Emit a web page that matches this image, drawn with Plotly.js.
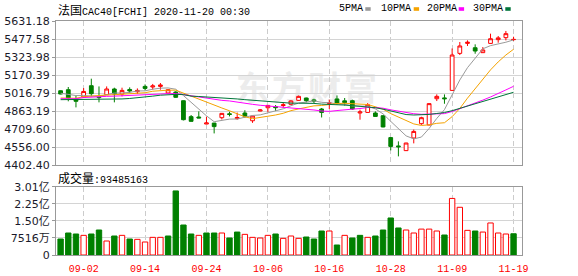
<!DOCTYPE html>
<html><head><meta charset="utf-8">
<script src="https://cdn.plot.ly/plotly-3.0.1.min.js"></script>
<style>
html,body{margin:0;padding:0;background:#fff;}
#wrap{position:relative;width:578px;height:276px;overflow:hidden;background:#fff;}
#wm{position:absolute;left:236px;top:70px;font-family:'Noto Sans CJK SC';font-weight:bold;font-size:33px;color:#ececec;letter-spacing:3px;white-space:nowrap;line-height:1;}
#chart{position:absolute;left:0;top:0;width:578px;height:276px;}
</style></head><body>
<div id="wrap"><div id="wm">东方财富</div><div id="chart"></div></div>
<script>
const dates = ['08-28','08-31','09-01','09-02','09-03','09-04','09-07','09-08','09-09','09-10',
 '09-11','09-14','09-15','09-16','09-17','09-18','09-21','09-22','09-23','09-24',
 '09-25','09-28','09-29','09-30','10-01','10-02','10-05','10-06','10-07','10-08',
 '10-09','10-12','10-13','10-14','10-15','10-16','10-19','10-20','10-21','10-22',
 '10-23','10-26','10-27','10-28','10-29','10-30','11-02','11-03','11-04','11-05',
 '11-06','11-09','11-10','11-11','11-12','11-13','11-16','11-17','11-18','11-19'];
const openP = [5036,5045,4966,4983,5079,4985,5002,5051,5008,5047,
 5028,5073,5068,5073,5017,5025,4951,4815,4812,4752,
 4760,4806,4839,4798,4846,4780,4863,4891,4900,4910,
 4920,4954,4974,4958,4880,4928,4966,4950,4951,4846,
 4851,4846,4823,4636,4565,4525,4633,4755,4744,4968,
 4975,5039,5355,5440,5403,5361,5440,5472,5489,5472];
const highP = [5038,5068,4994,5059,5139,5073,5073,5062,5062,5065,
 5056,5090,5094,5102,5050,5032,4953,4829,4860,4815,
 4762,4845,4857,4850,4870,4822,4880,4913,4914,4934,
 4955,4995,4977,4968,4889,4960,4996,4974,4960,4874,
 4931,4860,4826,4640,4604,4592,4705,4814,4928,5005,
 5005,5397,5452,5466,5432,5409,5523,5503,5546,5497];
const lowP = [5006,4946,4894,4980,4988,4937,5000,4937,4988,5017,
 5008,5039,5045,5045,5015,4975,4783,4773,4802,4750,
 4672,4791,4817,4789,4806,4762,4861,4855,4863,4891,
 4918,4950,4937,4931,4808,4880,4917,4909,4874,4789,
 4849,4815,4724,4527,4476,4522,4587,4745,4742,4948,
 4925,5035,5341,5418,5352,5359,5437,5446,5466,5461];
const closeP = [5008,4975,4946,5030,5011,4978,5051,5008,5039,5034,
 5039,5056,5077,5085,5045,4980,4789,4775,4804,4761,
 4730,4843,4834,4808,4818,4820,4872,4911,4892,4916,
 4949,4988,4951,4948,4851,4933,4931,4935,4880,4855,
 4917,4817,4727,4561,4558,4590,4689,4806,4926,4988,
 4968,5341,5418,5450,5375,5384,5480,5487,5523,5474];
const ma5 = [5015,5005,4995,4995,4994,4988,5003,5016,5017,5022,
 5034,5035,5049,5058,5060,5049,4995,4935,4879,4822,
 4772,4783,4794,4795,4807,4825,4830,4846,4863,4882,
 4908,4931,4939,4950,4937,4934,4923,4920,4906,4907,
 4904,4881,4839,4775,4716,4651,4625,4641,4714,4800,
 4875,5006,5128,5233,5310,5394,5421,5435,5450,5470];
const ma10 = [4974,4974,4972,4985,4992,4996,5000,5002,5005,5008,
 5011,5019,5032,5038,5041,5041,5015,4992,4968,4941,
 4910,4889,4865,4837,4814,4798,4807,4820,4829,4844,
 4866,4881,4893,4907,4910,4921,4927,4929,4928,4922,
 4919,4902,4879,4841,4811,4777,4753,4740,4745,4758,
 4763,4815,4885,4973,5055,5135,5214,5282,5341,5390];
const ma20 = [4968,4968,4968,4978,4983,4986,4988,4990,4992,4995,
 4998,5001,5004,5008,5011,5012,5003,4993,4983,4975,
 4961,4954,4949,4938,4929,4920,4912,4907,4899,4893,
 4889,4886,4879,4872,4863,4860,4867,4875,4879,4884,
 4893,4892,4887,4873,4860,4849,4840,4835,4836,4840,
 4841,4859,4882,4907,4933,4956,4983,5011,5043,5074];
const ma30 = [4960,4960,4960,4960,4961,4962,4963,4964,4966,4970,
 4975,4982,4990,4998,5003,5005,5003,4990,4987,4984,
 4980,4976,4972,4966,4960,4954,4948,4943,4937,4932,
 4930,4930,4930,4928,4922,4921,4917,4914,4909,4903,
 4899,4891,4879,4862,4846,4833,4829,4830,4834,4842,
 4850,4866,4886,4907,4925,4944,4965,4984,5005,5023];
const volume = [70400000,96800000,92400000,86500000,92400000,110000000,61600000,83600000,86500000,70400000,
 68900000,57200000,77700000,77700000,83600000,282000000,132000000,92400000,86500000,96800000,
 96800000,96800000,74800000,101000000,90900000,77700000,74800000,86500000,92400000,73300000,
 83600000,73300000,79200000,70400000,105600000,105600000,44000000,86500000,74800000,86500000,
 77700000,83600000,110000000,163000000,119000000,110000000,96800000,114000000,114000000,105600000,
 88000000,249000000,210000000,108500000,105600000,101000000,141000000,96800000,92400000,93485163];
const volUp = [0,0,0,1,0,0,1,0,1,0, 1,1,1,1,0,0,0,0,1,0, 0,1,0,0,1,1,1,1,0,1,
 1,1,0,0,0,1,0,1,0,0, 1,0,0,0,0,1,1,1,1,1, 0,1,1,1,0,1,1,1,1,0];
const tickDates = ['09-02','09-14','09-24','10-06','10-16','10-28','11-09','11-19'];
const priceTicks = [4402.40,4556.00,4709.60,4863.19,5016.79,5170.39,5323.98,5477.58,5631.18];
const priceTickText = ['4402.40','4556.00','4709.60','4863.19','5016.79','5170.39','5323.98','5477.58','5631.18'];
const volTicks = [0,75160000,150320000,225480000,300640000];
const volTickText = ['0','7516万','1.50亿','2.25亿','3.01亿'];
const maNames = ['5PMA','10PMA','20PMA','30PMA'];
const lastVolume = 93485163;

const RED='#ff0000', GREEN='#008000';
const maColors = ['#9a9a9a','#f5a300','#ff00ff','#00753a'];
const monoFont = 'Liberation Mono, Noto Sans CJK SC';
const cjk = s => '<span style="font-family:Noto Sans CJK SC;font-size:12px">'+s+'</span>';

const traces = [];
traces.push({type:'candlestick', x:dates, open:openP, high:highP, low:lowP, close:closeP,
  xaxis:'x', yaxis:'y', whiskerwidth:0, hoverinfo:'skip',
  increasing:{line:{color:RED,width:1}, fillcolor:'#ffffff'},
  decreasing:{line:{color:GREEN,width:1}, fillcolor:GREEN}});
[ma5,ma10,ma20,ma30].forEach((m,i)=>traces.push({type:'scatter',mode:'lines',x:dates,y:m,
  xaxis:'x',yaxis:'y',line:{color:maColors[i],width:1},hoverinfo:'skip'}));
traces.push({type:'bar', x:dates, y:volume, xaxis:'x2', yaxis:'y2', hoverinfo:'skip',
  marker:{color:volUp.map(u=>u?'#ffffff':GREEN), line:{color:volUp.map(u=>u?RED:GREEN), width:1}}});

const W=466, H=234, L=56, T=21;
const px = v => (v-L)/W, py = v => (T+H-v)/H;

const annotations = [
  {xref:'paper',yref:'paper',x:px(56),y:py(10),xanchor:'left',yanchor:'middle',showarrow:false,
   text:cjk('法国')+'CAC40[FCHI] 2020-11-20 00:30',font:{family:monoFont,size:10,color:'#000'}},
  {xref:'paper',yref:'paper',x:px(56),y:py(177),xanchor:'left',yanchor:'middle',showarrow:false,
   text:cjk('成交量')+':'+lastVolume,font:{family:monoFont,size:10,color:'#000'}}
];
const legX = [337,379,424.5,470.5];
const sqX = [365.3,413.7,458.7,505.3];
const shapes = [];
maNames.forEach((n,i)=>{
  annotations.push({xref:'paper',yref:'paper',x:px(legX[i]),y:py(9),xanchor:'left',yanchor:'middle',
    showarrow:false,text:n,font:{family:monoFont,size:10,color:'#000'}});
  shapes.push({type:'rect',xref:'paper',yref:'paper',x0:px(sqX[i]),x1:px(sqX[i]+5.4),
    y0:py(10.8),y1:py(7.2),fillcolor:maColors[i],line:{width:0}});
});

const gridH = '#d4d4d4', frame='#999999';
const layout = {
  width:578, height:276, margin:{l:L,r:578-L-W,t:T,b:276-T-H},
  paper_bgcolor:'rgba(0,0,0,0)', plot_bgcolor:'rgba(0,0,0,0)', showlegend:false,
  boxgap:0.3, bargap:0.3, dragmode:false,
  xaxis:{type:'category', domain:[0,1], anchor:'y', range:[-0.6,60.1], categoryorder:'array', categoryarray:dates,
    tickmode:'array', tickvals:tickDates, showticklabels:false, ticks:'',
    showgrid:true, gridcolor:'#cccccc', griddash:'5px,3px', gridwidth:1,
    showline:true, mirror:true, linecolor:frame, linewidth:1, zeroline:false,
    rangeslider:{visible:false}, fixedrange:true},
  yaxis:{domain:[py(165),1], anchor:'x', range:[4402.40,5631.18], tickmode:'array', tickvals:priceTicks, ticktext:priceTickText,
    ticks:'outside', ticklen:3, tickcolor:frame, showgrid:true, gridcolor:gridH, gridwidth:1,
    showline:true, mirror:true, linecolor:frame, linewidth:1, zeroline:false,
    tickfont:{family:'DejaVu Sans, Noto Sans CJK SC',size:11,color:'#1a1a2a'}, fixedrange:true},
  xaxis2:{type:'category', domain:[0,1], anchor:'y2', range:[-0.6,60.1], categoryorder:'array', categoryarray:dates,
    tickmode:'array', tickvals:tickDates, ticks:'outside', ticklen:4, tickcolor:'rgba(0,0,0,0)',
    tickfont:{family:monoFont,size:10,color:RED},
    showgrid:true, gridcolor:'#cccccc', griddash:'5px,3px', gridwidth:1,
    showline:true, mirror:true, linecolor:frame, linewidth:1, zeroline:false, fixedrange:true},
  yaxis2:{domain:[0,py(186.7)], anchor:'x2', range:[0,300640000], tickmode:'array', tickvals:volTicks, ticktext:volTickText,
    ticks:'outside', ticklen:3, tickcolor:frame, showgrid:true, gridcolor:gridH, gridwidth:1,
    showline:true, mirror:true, linecolor:frame, linewidth:1, zeroline:false,
    tickfont:{family:'DejaVu Sans, Noto Sans CJK SC',size:11,color:'#1a1a2a'}, fixedrange:true},
  annotations:annotations, shapes:shapes
};
Plotly.newPlot('chart', traces, layout, {staticPlot:true, displayModeBar:false});
</script>
</body></html>
